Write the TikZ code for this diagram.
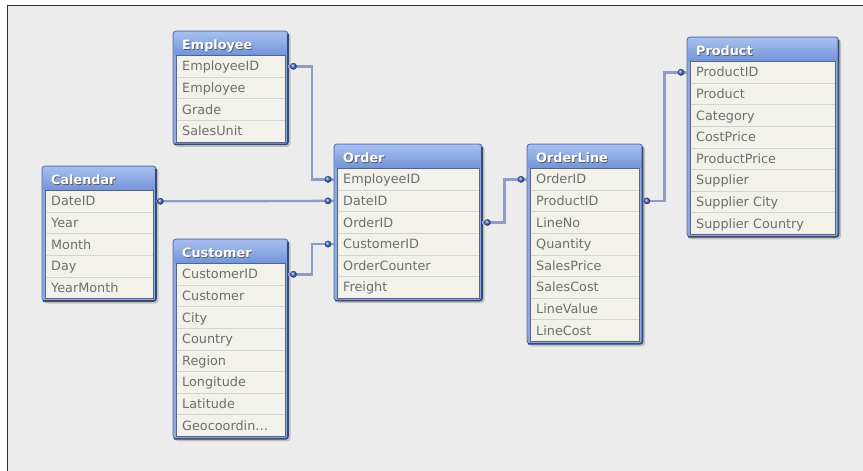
\documentclass[tikz,border=0pt]{standalone}
\usepackage{fontspec}
\setmainfont{DejaVu Sans}
\usepackage{tikz}
\usetikzlibrary{positioning}

\definecolor{bgray}{HTML}{ECECEC}
\definecolor{headtop}{HTML}{A6BFEF}
\definecolor{headbot}{HTML}{7193D8}
\definecolor{tblframe}{HTML}{3A4970}
\definecolor{rowfill}{HTML}{F2F2EB}
\definecolor{rowline}{HTML}{D3D3D3}
\definecolor{rowtext}{HTML}{6E6E6E}
\definecolor{linkcol}{HTML}{8C9DCB}
\definecolor{dotcol}{HTML}{4A72CF}

\tikzset{
  tshadow/.style={fill=black!45, opacity=0.45, rounded corners=3pt},
  tframe/.style={fill=headbot!80!white, draw=headbot!75!black, line width=0.8pt, rounded corners=3pt},
  tedge/.style={draw=tblframe, line width=1.6pt, rounded corners=2.5pt},
  thead/.style={top color=headtop, bottom color=headbot, rounded corners=2pt},
  tbody/.style={fill=rowfill, draw=tblframe!85, line width=0.8pt},
  rowsep/.style={draw=rowline, line width=0.8pt},
  headtxt/.style={anchor=base west, inner sep=0pt, text=white, font=\fontsize{12.8}{14}\selectfont\bfseries},
  headshade/.style={headtxt, text=black!65},
  rowbox/.style={anchor=west, inner xsep=9pt, inner ysep=0pt, minimum height=21.6pt,
    text height=10.5pt, text depth=1.5pt, align=left, text=rowtext, font=\fontsize{12.8}{14}\selectfont},
  link/.style={draw=linkcol, line width=2.4pt},
  dot/.style={ball color=dotcol, draw=dotcol!60!black, line width=.3pt},
}

% table: name, left, top, width, number of rows, rows
\newcommand{\dbtable}[6]{%
  \pgfmathsetmacro{\tb}{#3+24.5+#5*21.6}%
  \pgfmathsetmacro{\tw}{#4-18}%
  \fill[tshadow] (#2+2,#3+2) rectangle (#2+#4+2.5,\tb+5);
  \draw[tframe] (#2,#3) rectangle (#2+#4,\tb+2.5);
  \draw[tedge] (#2+#4,#3+3) -- (#2+#4,\tb+2.5) -- (#2+1,\tb+2.5);
  \shade[thead] (#2+1,#3+1) rectangle (#2+#4-1.5,#3+24.5);
  \draw[tbody] (#2+3,#3+24.5) rectangle (#2+#4-3,\tb);
  \node[headshade] (#1-hs) at (#2+9.7,#3+19.2) {#1};
  \node[headtxt] (#1-h) at (#2+9,#3+18.5) {#1};
  \foreach \r [count=\i] in {#6} {
    \node[rowbox, minimum width=#4pt, text width=\tw pt] (#1-\i) at (#2,#3+24.5+\i*21.6-10.8) {\r};
    \ifnum\i<#5 \draw[rowsep] (#2+3.5,#3+24.5+\i*21.6) -- ++(#4-7,0); \fi
  }
}

\begin{document}
\begin{tikzpicture}[x=1pt, y=-1pt]
	\useasboundingbox (0,0) rectangle (863,471);
	%%%% background
	\fill[white] (0,0) rectangle (863,471);
	\fill[bgray] (7.5,5.5) rectangle (863,471);
	\draw[black!80, line width=1.3pt] (7.5,471) -- (7.5,5.5) -- (863,5.5);

	%%%% tables
	\dbtable{Employee}{173}{31}{115}{4}{EmployeeID,Employee,Grade,SalesUnit}
	\dbtable{Calendar}{42}{166}{114}{5}{DateID,Year,Month,Day,YearMonth}
	\dbtable{Customer}{173}{239}{115}{8}{CustomerID,Customer,City,Country,Region,Longitude,Latitude,Geocoordin\ldots}
	\dbtable{Order}{334}{144}{148}{6}{EmployeeID,DateID,OrderID,CustomerID,OrderCounter,Freight}
	\dbtable{OrderLine}{527}{144}{115.5}{8}{OrderID,ProductID,LineNo,Quantity,SalesPrice,SalesCost,LineValue,LineCost}
	\dbtable{Product}{687}{37}{151.5}{8}{ProductID,Product,Category,CostPrice,ProductPrice,Supplier,Supplier City,Supplier Country}

	%%%% keys
	\draw[link] (Employee-1.east) -- ++(23.7,0) |- (Order-1.west);
	\draw[link] (Calendar-1.east) -- (Order-2.west);
	\draw[link] (Customer-1.east) -- ++(23.7,0) |- (Order-4.west);
	\draw[link] (Order-3.east) -- ++(22,0) |- (OrderLine-1.west);
	\draw[link] (OrderLine-2.east) -- ++(21.5,0) |- (Product-1.west);

	\foreach \p/\s in {Employee-1.east/5, Order-1.west/-6, Calendar-1.east/4, Order-2.west/-6,
	  Customer-1.east/5, Order-4.west/-6, Order-3.east/5, OrderLine-1.west/-6,
	  OrderLine-2.east/4, Product-1.west/-6}
	  \shadedraw[dot] ([xshift=\s]\p) circle[radius=3.2pt];
\end{tikzpicture}
\end{document}
